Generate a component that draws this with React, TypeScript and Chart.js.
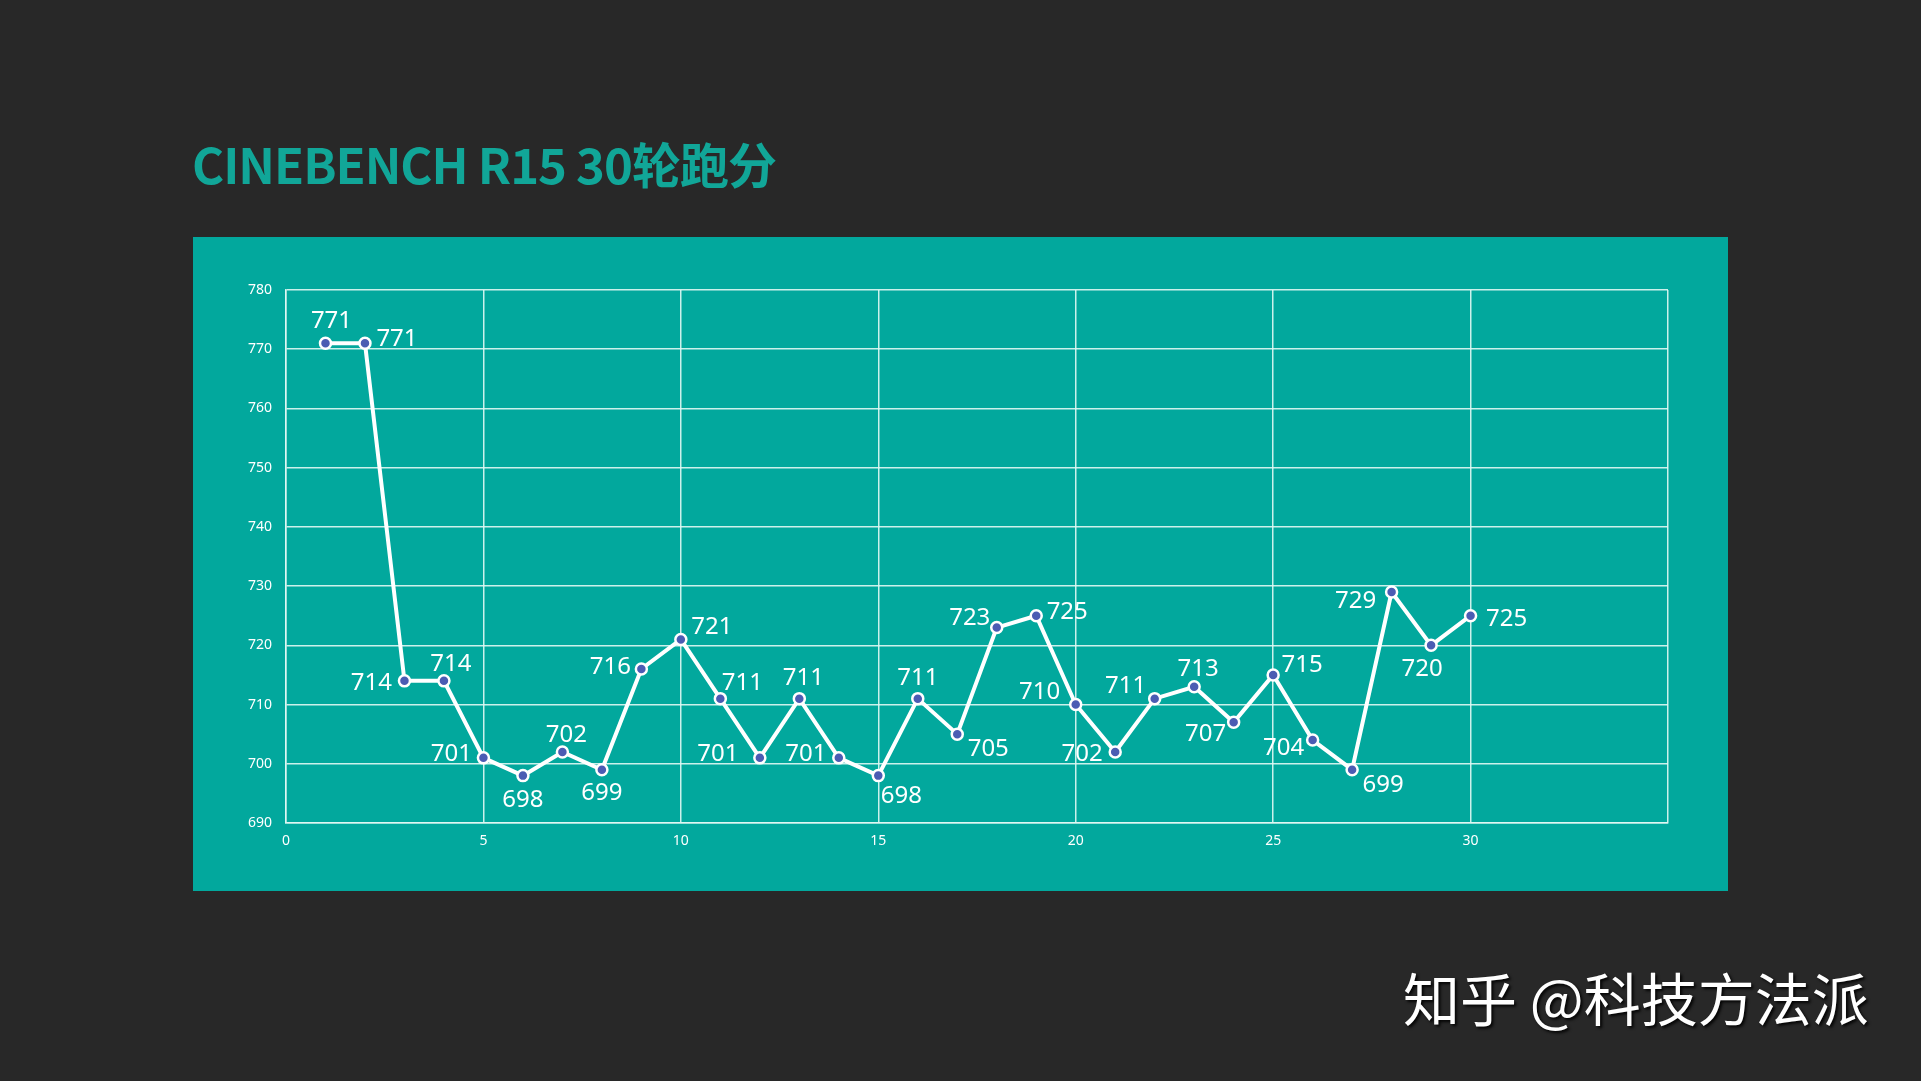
import React, { useEffect, useRef } from "react";
import { Chart, registerables } from "chart.js";

Chart.register(...registerables);

const TITLE = "CINEBENCH R15 30轮跑分";
const WATERMARK = "知乎 @科技方法派";
const rounds = Array.from({ length: 30 }, (_, i) => i + 1);
const scores = [771, 771, 714, 714, 701, 698, 702, 699, 716, 721, 711, 701, 711, 701, 698, 711, 705, 723, 725, 710, 702, 711, 713, 707, 715, 704, 699, 729, 720, 725];
const xTickValues = [0, 5, 10, 15, 20, 25, 30];
const yMin = 690;
const yMax = 780;

// label placement per point (style only), in px
const labelOffsets: [number, number][] = [
  [6, -25], [32, -7], [-33, -1], [7, -20], [-32, -7], [0, 22], [4, -20], [0, 20], [-31, -5], [31, -15],
  [22, -18], [-42, -7], [4, -23], [-33, -7], [23, 18], [0, -23], [31, 12], [-27, -12], [31, -7], [-36, -15],
  [-33, -1], [-29, -15], [4, -21], [-28, 9], [29, -13], [-29, 5], [31, 12], [-36, 6], [-9, 21], [36, 0],
];

const labelPlugin = {
  id: "pointLabels",
  afterDatasetsDraw(chart: any) {
    const ctx = chart.ctx;
    const meta = chart.getDatasetMeta(0);
    ctx.save();
    ctx.font = '24px "Noto Sans", "Open Sans", sans-serif';
    ctx.fillStyle = "#ffffff";
    ctx.textAlign = "center";
    ctx.textBaseline = "middle";
    meta.data.forEach((pt: any, i: number) => {
      const [dx, dy] = labelOffsets[i] || [0, -20];
      ctx.fillText(String(scores[i]), pt.x + dx, pt.y + dy + 3);
    });
    ctx.restore();
  },
};

export default function App() {
  const canvasRef = useRef<HTMLCanvasElement | null>(null);

  useEffect(() => {
    document.body.style.margin = "0";
    const canvas = canvasRef.current;
    if (!canvas) return;
    const gridColor = "rgba(225,248,244,0.9)";
    const chart = new Chart(canvas, {
      type: "line",
      data: {
        datasets: [
          {
            data: rounds.map((r, i) => ({ x: r, y: scores[i] })),
            borderColor: "#ffffff",
            borderWidth: 4,
            pointRadius: 5.5,
            pointBorderWidth: 2.5,
            pointBackgroundColor: "#4b5cb3",
            pointBorderColor: "#ffffff",
            tension: 0,
          },
        ],
      },
      options: {
        animation: false,
        responsive: false,
        maintainAspectRatio: false,
        layout: { padding: { left: 0, right: 60, top: 53, bottom: 0 } },
        plugins: { legend: { display: false }, tooltip: { enabled: false } },
        scales: {
          x: {
            type: "linear",
            min: 0,
            max: 35,
            afterFit: (s: any) => { s.height = 68; },
            afterBuildTicks: (s: any) => {
              s.ticks = [...xTickValues, 35].map((v) => ({ value: v }));
            },
            ticks: {
              color: "#ffffff",
              font: { size: 14, family: '"Noto Sans", sans-serif' },
              padding: 10,
              maxRotation: 0,
              callback: (v: any) => (xTickValues.includes(Number(v)) ? String(v) : ""),
            },
            grid: { color: gridColor, lineWidth: 1.5, drawTicks: false },
            border: { color: gridColor, width: 1.5 },
          },
          y: {
            min: yMin,
            max: yMax,
            afterFit: (s: any) => { s.width = 93; },
            ticks: {
              stepSize: 10,
              color: "#ffffff",
              font: { size: 14, family: '"Noto Sans", sans-serif' },
              padding: 14,
            },
            grid: { color: gridColor, lineWidth: 1.5, drawTicks: false },
            border: { color: gridColor, width: 1.5 },
          },
        },
      },
      plugins: [labelPlugin],
    });
    return () => chart.destroy();
  }, []);

  return (
    <div style={{ position: "fixed", left: 0, top: 0, width: 1921, height: 1081, background: "#282828", overflow: "hidden" }}>
      <div
        style={{
          position: "absolute",
          left: 192,
          top: 133,
          fontFamily: '"Noto Sans CJK SC", sans-serif',
          fontWeight: 700,
          fontSize: 49,
          letterSpacing: -1,
          color: "#11a698",
          whiteSpace: "nowrap",
          lineHeight: "60px",
        }}
      >
        {TITLE}
      </div>
      <div style={{ position: "absolute", left: 193, top: 237, width: 1535, height: 654, background: "#02a89d" }}>
        <canvas ref={canvasRef} width={1535} height={654} style={{ display: "block", width: 1535, height: 654 }} />
      </div>
      <div
        style={{
          position: "absolute",
          left: 1403,
          top: 960,
          fontFamily: '"Noto Sans CJK SC", sans-serif',
          fontSize: 57,
          color: "#ffffff",
          whiteSpace: "nowrap",
          lineHeight: "72px",
          textShadow: "2px 2px 3px rgba(0,0,0,0.9)",
        }}
      >
        {WATERMARK}
      </div>
    </div>
  );
}
